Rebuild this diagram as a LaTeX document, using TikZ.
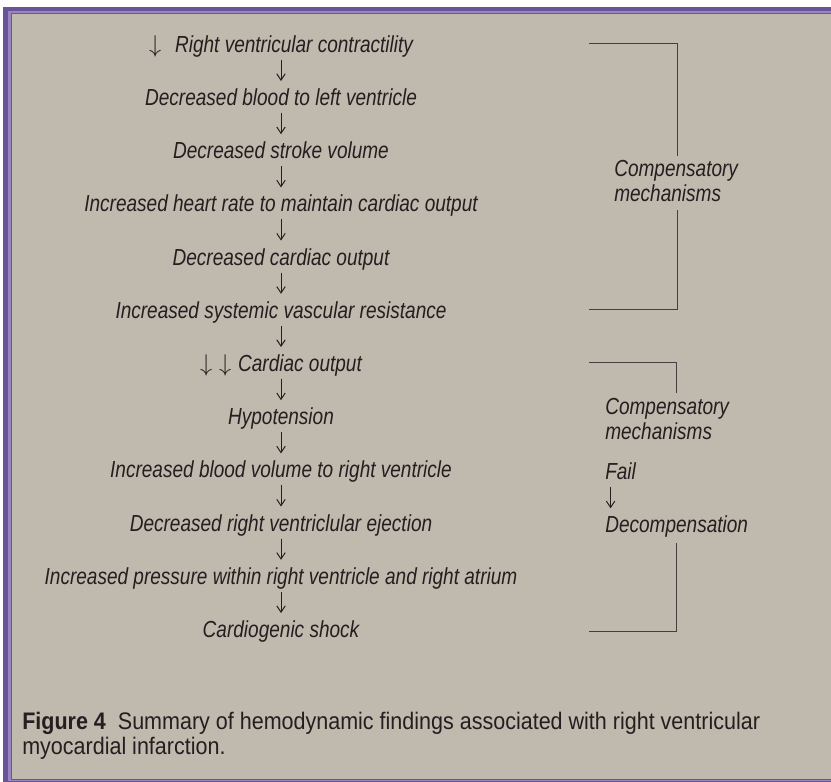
\documentclass[tikz,border=0pt]{standalone}
\usepackage{fontspec}
\setmainfont{Liberation Sans}[FakeStretch=0.82]
\newfontfamily\capfont{Liberation Sans}[FakeStretch=0.9]
\usetikzlibrary{arrows.meta}
\definecolor{panel}{RGB}{191,185,174}
\definecolor{frameout}{RGB}{104,84,150}
\definecolor{frameline}{RGB}{152,134,194}
\definecolor{ink}{RGB}{35,31,32}

\begin{document}
\begin{tikzpicture}[x=0.025cm,y=-0.025cm,
	stage/.style={font=\fontsize{16.5}{17.8}\selectfont\itshape, text=ink, inner sep=0pt, text height=11.8pt, text depth=0pt},
	side/.style={font=\fontsize{16.5}{17.8}\selectfont\itshape, text=ink, inner sep=0pt, align=left},
	flow/.style={-{Straight Barb[length=4.5pt,width=6pt]}, line width=0.7pt, draw=ink, shorten <=0.18cm, shorten >=0.19cm},
	bracket/.style={line width=0.7pt, draw=black!75}]
\useasboundingbox (0,0) rectangle (831,782);

%========================================
% Frame and panel
%========================================
\fill[white] (0,0) rectangle (831,782);
\fill[frameout] (3,7) rectangle (831,782);
\fill[frameline] (8,11) rectangle (831,780.5);
\fill[frameout] (11,13) rectangle (831,779.5);
\fill[panel] (12,14) rectangle (831,779);

%========================================
% Cascade of findings
%========================================
\foreach \txt [count=\i] in {
	{$\downarrow$\hspace{0.6em}Right ventricular contractility},
	Decreased blood to left ventricle,
	Decreased stroke volume,
	Increased heart rate to maintain cardiac output,
	Decreased cardiac output,
	Increased systemic vascular resistance,
	{$\downarrow\;\downarrow$\hspace{0.3em}Cardiac output},
	Hypotension,
	Increased blood volume to right ventricle,
	Decreased right ventriclular ejection,
	Increased pressure within right ventricle and right atrium,
	Cardiogenic shock}
\node[stage] (s\i) at (281,{44+53.2*(\i-1)}) {\txt};

% Arrows between steps
\foreach \i in {1,...,11}{
	\pgfmathtruncatemacro{\j}{\i+1}
	\draw[flow] (s\i) -- (s\j);
}

%========================================
% RIGHT: brackets
%========================================
% Upper bracket
\draw[bracket] (589,43) -- (677,43) -- (677,156);
\draw[bracket] (677,210) -- (677,309) -- (589,309);
\node[side, anchor=north west] (comp1) at (614,159.7) {Compensatory\\mechanisms};

% Lower bracket
\draw[bracket] (589,362.5) -- (676,362.5) -- (676,393);
\draw[bracket] (676,543) -- (676,631) -- (589,631);
\node[side, anchor=north west] (comp2) at (605,397.7) {Compensatory\\mechanisms};
\node[stage, anchor=west] (fail) at (605,471) {Fail};
\node[stage, anchor=west] (decomp) at (605,524.5) {Decompensation};
\draw[flow] ([xshift=0.14cm]fail.south west) -- ([xshift=0.14cm]decomp.north west);

%========================================
% Caption
%========================================
\node[anchor=north west, inner sep=0pt, align=left, text=ink,
	font=\capfont\fontsize{17}{17.8}\selectfont] (cap) at (22,712)
{\textbf{Figure 4}\hspace{0.5em}Summary of hemodynamic findings associated with right ventricular\\myocardial infarction.};
\end{tikzpicture}
\end{document}
